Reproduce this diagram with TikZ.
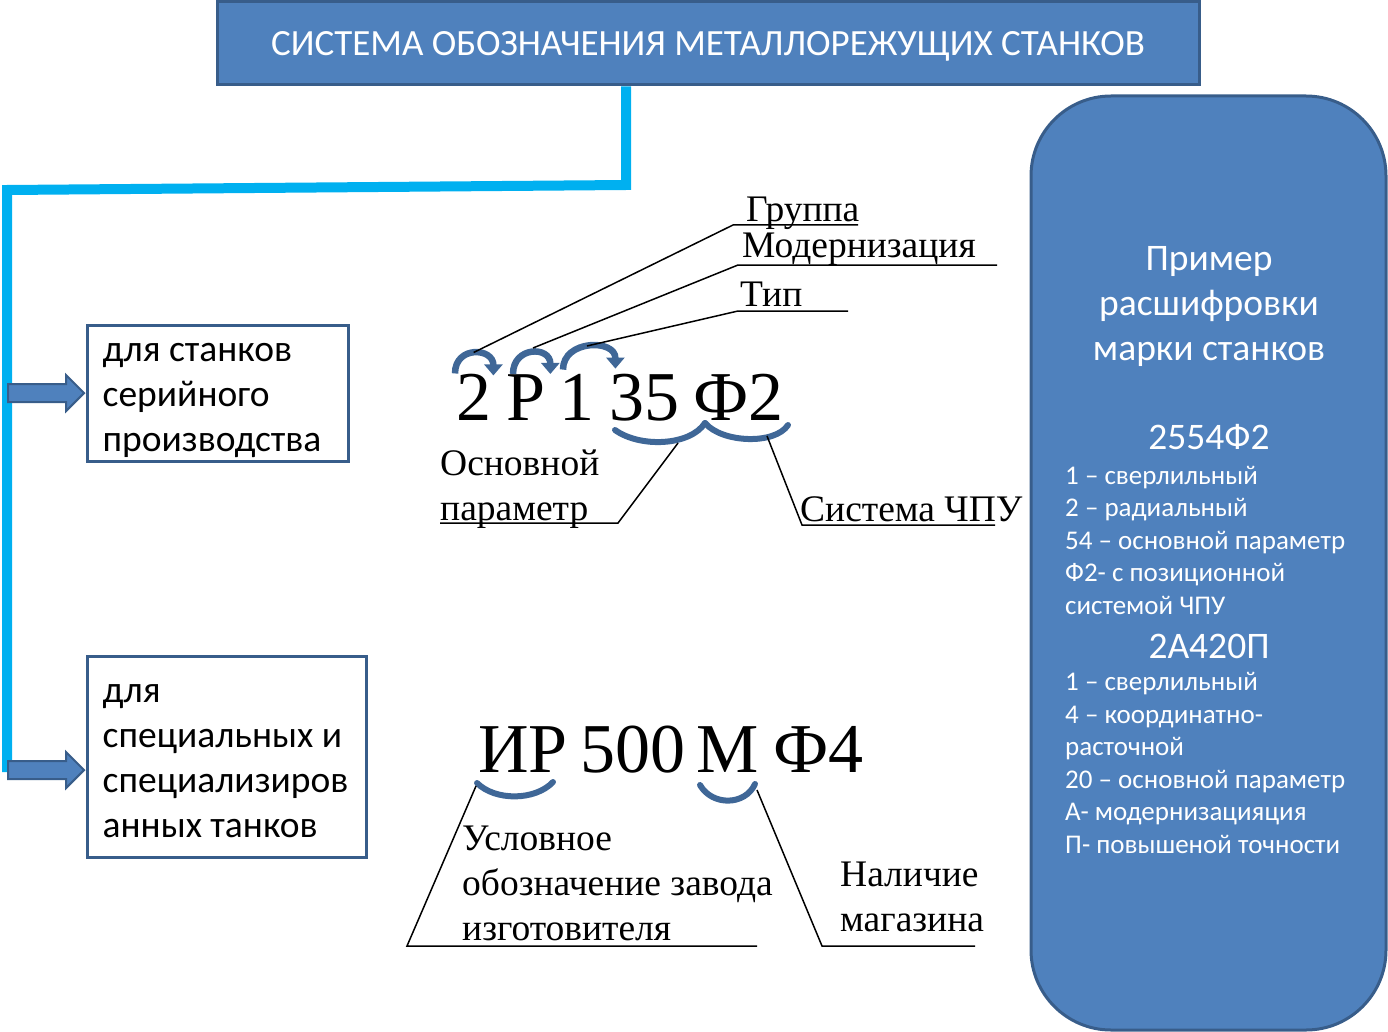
\documentclass[tikz,border=0pt]{standalone}
\usepackage{fontspec}
\setmainfont{Liberation Serif}
\newfontfamily\slidefont{Carlito}
\usetikzlibrary{arrows.meta, positioning, calc, shapes.arrows}
\definecolor{slideblue}{HTML}{4F81BD}
\definecolor{slideedge}{HTML}{385D8A}
\definecolor{slidecyan}{HTML}{00B0F0}
\definecolor{markblue}{HTML}{3F6797}

\begin{document}
\begin{tikzpicture}[x=1pt, y=-1pt,
    titlebox/.style={rectangle, draw=slideedge, line width=3pt, fill=slideblue, text=white, text depth=0pt,
                     minimum width=982pt, minimum height=83pt, font=\slidefont\fontsize{37}{44}\selectfont},
    kindbox/.style={rectangle, draw=slideedge, line width=3pt, minimum width=#1},
    kindtext/.style={inner sep=0pt, align=left, anchor=west, font=\slidefont\fontsize{37.5}{45}\selectfont},
    feedline/.style={draw=slidecyan, line width=10pt},
    flowarrow/.style={single arrow, draw=slideedge, fill=slideblue, line width=2pt, inner xsep=0pt,
                      inner ysep=8pt, minimum height=76pt, single arrow head extend=9pt, anchor=tip},
    notebox/.style={rectangle, rounded corners=80pt, draw=slideedge, line width=3pt, fill=slideblue,
                    minimum width=355pt, minimum height=934pt},
    notehead/.style={text=white, inner sep=0pt, align=center, font=\slidefont\fontsize{37.5}{45}\selectfont},
    noteitem/.style={text=white, inner sep=0pt, align=left, anchor=west, font=\slidefont\fontsize{27}{32.5}\selectfont},
    markcode/.style={inner sep=0pt, anchor=base west, font=\fontsize{70}{80}\selectfont},
    serlabel/.style={inner sep=0pt, align=left, font=\fontsize{37.5}{45}\selectfont},
    turnarrow/.style={draw=markblue, line width=6.5pt, -{Triangle[length=11pt, width=18pt]}},
    markbrace/.style={draw=markblue, line width=6pt, line cap=round},
    leader/.style={draw=black, line width=1.5pt}
]
\useasboundingbox (0,0) rectangle (1388,1032);

\node[titlebox] (title) at (708,43.5) {СИСТЕМА ОБОЗНАЧЕНИЯ МЕТАЛЛОРЕЖУЩИХ СТАНКОВ};

\coordinate (bend) at (626,185);
\coordinate (corner) at (7,190);
\coordinate (foot) at (7,772);
\draw[feedline] (title.south -| bend) -- (bend) -- (corner) -- (foot);

\node[kindbox=261pt, minimum height=136pt] (serial) at (217.5,393) {};
\node[kindbox=279pt, minimum height=201pt] (special) at (226.5,756.5) {};
\node[kindtext] (serialtext) at ($(serial.west)+(17,7)$) {для станков\\серийного\\производства};
\node[kindtext] (specialtext) at ($(special.west)+(17,5)$) {для\\специальных и\\специализиров\\анных танков};
\node[flowarrow] (toserial) at (serial.west) {};
\node[flowarrow] (tospecial) at (special.west |- 0,770) {};

\node[notebox] (note) at (1208.5,563) {};
\node[notehead] (heading) at (1209,306) {Пример\\расшифровки\\марки станков};
\node[notehead, anchor=base] (mark1) at (1209,449) {2554Ф2};
\node[noteitem] (items1) at (1065,540) {1 – сверлильный\\2 – радиальный\\54 – основной параметр\\Ф2- с позиционной\\системой ЧПУ};
\node[notehead, anchor=base] (mark2) at (1209,658) {2А420П};
\node[noteitem] (items2) at (1065,763) {1 – сверлильный\\4 – координатно-\\расточной\\20 – основной параметр\\А- модернизацияция\\П- повышеной точности};

\node[markcode] (n2) at (456,420) {2};
\node[markcode] (nP) at (506,420) {Р};
\node[markcode] (n1) at (559,420) {1};
\node[markcode] (n35) at (609,420) {35};
\node[markcode] (nF2) at (693,420) {Ф2};

\draw[turnarrow] ($(n2.north west)+(-1,0)$) .. controls +(0,-28) and +(0,-28) .. ($(n2.north east)+(2,2)$);
\draw[turnarrow] ($(nP.north west)+(7,0)$) .. controls +(0,-28) and +(0,-28) .. ($(nP.north east)+(5,0)$);
\draw[turnarrow] ($(n1.north west)+(4,-4)$) .. controls +(0,-30) and +(0,-30) .. ($(n1.north east)+(21,-5)$);
\coordinate (top2) at ($(n2.north)+(0,-21)$);
\coordinate (topP) at (533,348);
\coordinate (top1) at (587,346);

\node[serlabel, anchor=base west] (group) at (746,222) {Группа};
\node[serlabel, anchor=base west] (modern) at (742,258) {Модернизация};
\node[serlabel, anchor=base west] (kind) at (740,306) {Тип};
\coordinate (groupL) at (733,225);
\coordinate (groupR) at (858,225);
\coordinate (modernL) at (738,265);
\coordinate (modernR) at (997,265);
\coordinate (kindL) at (738,311);
\coordinate (kindR) at (848,311);
\draw[leader] (top2) -- (groupL) -- (groupR);
\draw[leader] (topP) -- (modernL) -- (modernR);
\draw[leader] (top1) -- (kindL) -- (kindR);

\draw[markbrace] (615,430) .. controls (640,448) and (690,446) .. (705,423);
\draw[markbrace] (705,423) .. controls (722,443) and (775,445) .. (788,425);
\coordinate (size) at (678,443);
\coordinate (cnc) at (767,436);
\node[serlabel, anchor=west] (basic) at (440,489) {Основной\\параметр};
\node[serlabel, anchor=base west] (system) at (800,521) {Система ЧПУ};
\coordinate (basicR) at (618,523);
\coordinate (basicL) at (440,523);
\coordinate (systemL) at (802,525);
\coordinate (systemR) at (995,525);
\draw[leader] (size) -- (basicR) -- (basicL);
\draw[leader] (cnc) -- (systemL) -- (systemR);

\node[markcode] (nIR) at (478,772) {ИР};
\node[markcode] (n500) at (580,772) {500};
\node[markcode] (nM) at (696,772) {М};
\node[markcode] (nF4) at (773,772) {Ф4};

\draw[markbrace] (477,783) .. controls (495,801) and (535,801) .. (553,782);
\draw[markbrace] (700,785) .. controls (712,806) and (745,806) .. (755,784);
\coordinate (maker) at (476,786);
\coordinate (store) at (757,790);
\node[serlabel, anchor=west] (makerlabel) at (462,883) {Условное\\обозначение завода\\изготовителя};
\node[serlabel, anchor=west] (storelabel) at (840,897) {Наличие\\магазина};
\coordinate (makerL) at (407,946);
\coordinate (makerR) at (757,946);
\coordinate (storeL) at (822,946);
\coordinate (storeR) at (975,946);
\draw[leader] (maker) -- (makerL) -- (makerR);
\draw[leader] (store) -- (storeL) -- (storeR);
\end{tikzpicture}
\end{document}
